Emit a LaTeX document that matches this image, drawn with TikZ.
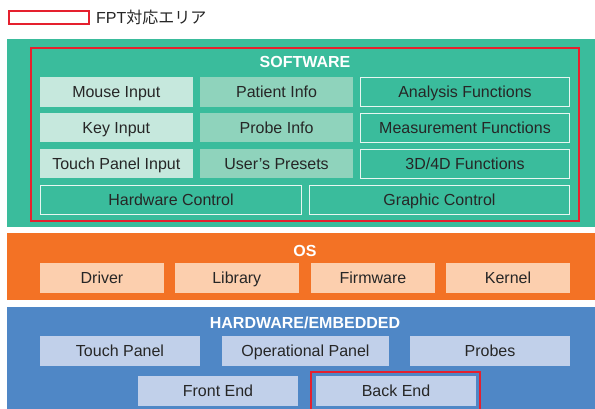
\documentclass[tikz,border=0pt]{standalone}
\usepackage{fontspec}
\setmainfont{Liberation Sans}
\newfontfamily\jpfont{Noto Sans CJK JP}
\usetikzlibrary{positioning}

\definecolor{swgreen}{HTML}{3ABC9C}
\definecolor{swlight}{HTML}{C6E8DD}
\definecolor{swmid}{HTML}{8FD3BC}
\definecolor{swline}{HTML}{E8F6F1}
\definecolor{osorange}{HTML}{F37225}
\definecolor{ospeach}{HTML}{FCCFAE}
\definecolor{hwblue}{HTML}{4F87C6}
\definecolor{hwlight}{HTML}{C1D0EA}
\definecolor{fptred}{HTML}{E5202E}
\definecolor{textgray}{HTML}{262626}

\begin{document}
\begin{tikzpicture}[
        x=1pt, y=-1pt,
        node distance=6.3pt and 7.3pt,
        panel/.style={anchor=north west, inner sep=0pt, outer sep=0pt},
        box/.style={inner sep=0pt, outer sep=0pt, minimum height=29.6pt, text height=14pt, text depth=2.5pt, text=textgray, font=\fontsize{16}{16}\selectfont},
        lightbox/.style={box, fill=swlight, minimum width=152.7pt},
        midbox/.style={box, fill=swmid, minimum width=153.3pt},
        linebox/.style={box, fill=swgreen, draw=swline, line width=1pt, minimum height=28.6pt},
        osbox/.style={box, fill=ospeach, minimum width=124pt},
        hwbox/.style={box, fill=hwlight, minimum width=160pt},
        title/.style={text=white, inner sep=0pt, text height=14pt, text depth=2.5pt, font=\fontsize{16}{16}\selectfont\bfseries},
        fptarea/.style={draw=fptred, line width=2pt}
    ]
    \useasboundingbox (0,0) rectangle (595,409);
    \clip (0,0) rectangle (595,409);

    % Legend
    \draw[fptarea, fill=white] (9,11) rectangle (89,24);
    \node[anchor=west, inner sep=0pt, text=textgray, text height=14pt, text depth=2.5pt] (legend) at (96,17.5)
        {\fontsize{16}{16}\selectfont FPT\jpfont\fontsize{16}{16}\selectfont 対応エリア};

    % Layer panels
    \node[panel, fill=swgreen, minimum width=600pt, minimum height=188.5pt] (software) at (7,39) {};
    \node[panel, fill=osorange, minimum width=600pt, minimum height=66.5pt] (os) at (7,233.5) {};
    \node[panel, fill=hwblue, minimum width=600pt, minimum height=105pt] (hardware) at (7,307.3) {};

    % Software
    \node[title] (swtitle) at (305,61.7) {SOFTWARE};
    \node[lightbox] (mouse) at (116.3,91.8) {Mouse Input};
    \node[lightbox] (key) [below=of mouse] {Key Input};
    \node[lightbox] (touchin) [below=of key] {Touch Panel Input};
    \node[midbox] (patient) [right=of mouse] {Patient Info};
    \node[midbox] (probeinfo) [right=of key] {Probe Info};
    \node[midbox] (presets) [right=of touchin] {User's Presets};
    \node[linebox, minimum width=209pt] (analysis) at (465,91.8) {Analysis Functions};
    \node[linebox, minimum width=209pt] (measure) at (465,127.8) {Measurement Functions};
    \node[linebox, minimum width=209pt] (func3d) at (465,163.8) {3D/4D Functions};
    \node[linebox, minimum width=260.4pt] (hwcontrol) at (171,200.2) {Hardware Control};
    \node[linebox, minimum width=260pt] (graphic) at (439.5,200.2) {Graphic Control};
    \draw[fptarea] (31,47.7) rectangle (579,221.5);

    % OS
    \node[title] (ostitle) at (305,250.5) {OS};
    \node[osbox] (driver) at (102,277.8) {Driver};
    \node[osbox] (library) at (236.8,277.8) {Library};
    \node[osbox] (firmware) at (373,277.8) {Firmware};
    \node[osbox] (kernel) at (508,277.8) {Kernel};

    % Hardware/embedded
    \node[title] (hwtitle) at (305,322.7) {HARDWARE/EMBEDDED};
    \node[hwbox] (touchpanel) at (120,350.8) {Touch Panel};
    \node[hwbox, minimum width=167pt] (oppanel) at (305.5,350.8) {Operational Panel};
    \node[hwbox] (probes) at (490,350.8) {Probes};
    \node[hwbox] (frontend) at (218,390.7) {Front End};
    \node[hwbox] (backend) at (396,390.7) {Back End};
    \draw[fptarea] (311,372.3) rectangle (480,415);

\end{tikzpicture}
\end{document}
